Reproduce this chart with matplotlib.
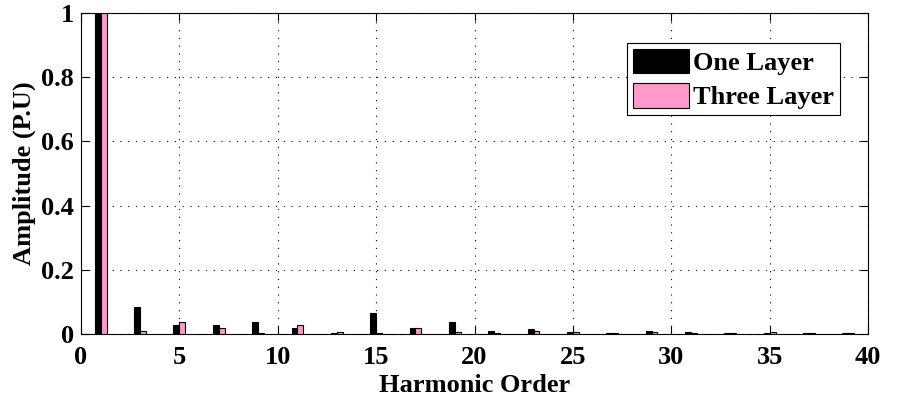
import numpy as np
import matplotlib.pyplot as plt

plt.rcParams['font.family'] = ['Liberation Serif', 'DejaVu Serif']
plt.rcParams['font.weight'] = 'bold'

# harmonic spectrum, odd orders only
orders = np.arange(1, 40, 2)
one_layer = [1.0, 0.084, 0.027, 0.029, 0.037, 0.018, 0.003, 0.064, 0.019, 0.038,
             0.010, 0.015, 0.007, 0.003, 0.010, 0.007, 0.003, 0.004, 0.003, 0.003]
three_layer = [1.0, 0.010, 0.036, 0.018, 0.003, 0.027, 0.006, 0.002, 0.019, 0.006,
               0.004, 0.010, 0.007, 0.003, 0.007, 0.003, 0.003, 0.007, 0.002, 0.003]

fig = plt.figure(figsize=(9.01, 3.99), dpi=100)
ax = fig.add_axes([0.0899, 0.163, 0.8735, 0.804])

w = 0.3
ax.bar(orders - w / 2, one_layer, width=w, color='black', edgecolor='black',
       linewidth=0.8, label='One Layer', zorder=3)
ax.bar(orders + w / 2, three_layer, width=w, color='#ff99cc', edgecolor='black',
       linewidth=0.8, label='Three Layer', zorder=3)

ax.set_xlim(0, 40)
ax.set_ylim(0, 1)
ax.set_xticks(np.arange(0, 41, 5))
ax.set_yticks([0, 0.2, 0.4, 0.6, 0.8, 1])
ax.set_yticklabels(['0', '0.2', '0.4', '0.6', '0.8', '1'])
ax.tick_params(direction='in', length=6, width=0.8, top=True, right=True,
               labelsize=19)
ax.tick_params(axis='x', pad=8.5)
ax.tick_params(axis='y', pad=5)
for s in ax.spines.values():
    s.set_linewidth(0.8)
ax.grid(True, color='black', linestyle=(0, (1, 6)), linewidth=0.8, zorder=0)

ax.set_xlabel('Harmonic Order', fontsize=19, fontweight='bold', labelpad=4)
ax.set_ylabel('Amplitude (P.U)', fontsize=19, fontweight='bold', labelpad=3.5)

leg = ax.legend(loc='upper right', bbox_to_anchor=(0.9644, 0.9065),
                borderaxespad=0, fontsize=19,
                fancybox=False, framealpha=1, edgecolor='black',
                handlelength=2.15, handleheight=1.05, borderpad=0.22,
                labelspacing=0.3, handletextpad=0.15)
leg.get_frame().set_linewidth(0.8)

fig.savefig('out.png', dpi=100)
